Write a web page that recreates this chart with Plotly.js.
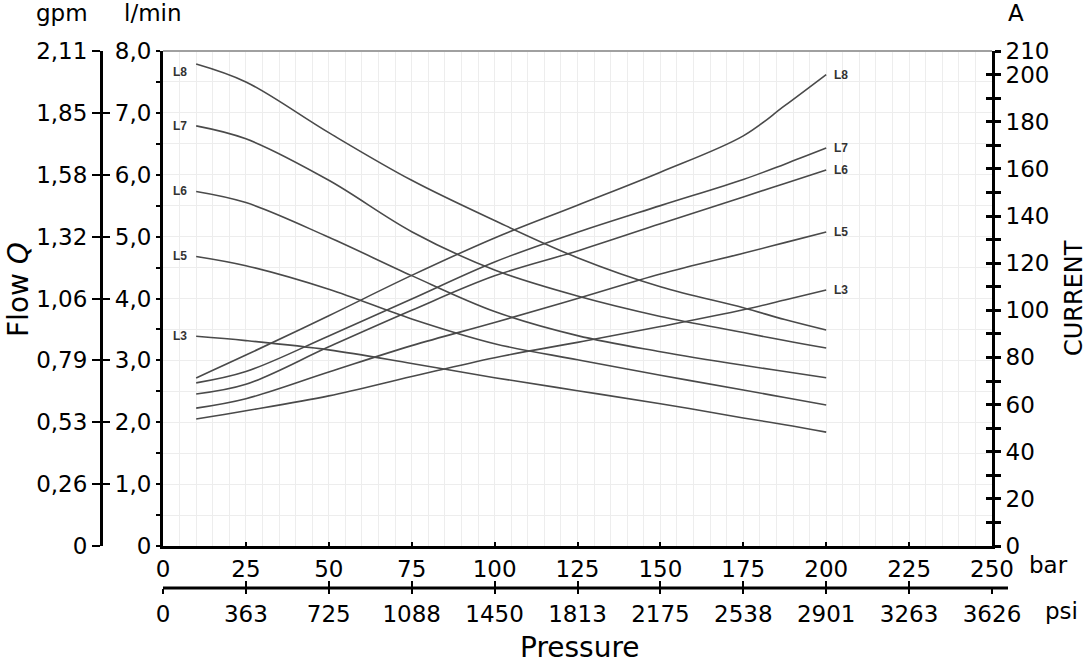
<!DOCTYPE html>
<html>
<head>
<meta charset="utf-8">
<script src="https://cdn.plot.ly/plotly-3.0.1.min.js"></script>
<style>html,body{margin:0;padding:0;background:#fff;}#chart{width:1087px;height:663px;}</style>
</head>
<body>
<div id="chart"></div>
<script>
// ---- data ----
const bars = [10, 25, 50, 75, 100, 125, 150, 175, 187.5, 200];
const seriesNames = ['L8', 'L7', 'L6', 'L5', 'L3'];
const flowL8 = [7.79, 7.50, 6.68, 5.91, 5.26, 4.66, 4.19, 3.85, 3.66, 3.49];
const flowL7 = [6.79, 6.58, 5.91, 5.08, 4.46, 4.04, 3.71, 3.45, 3.32, 3.20];
const flowL6 = [5.73, 5.55, 4.99, 4.37, 3.79, 3.40, 3.14, 2.92, 2.82, 2.72];
const flowL5 = [4.68, 4.53, 4.15, 3.67, 3.27, 3.01, 2.76, 2.52, 2.40, 2.28];
const flowL3 = [3.39, 3.32, 3.17, 2.95, 2.72, 2.51, 2.30, 2.07, 1.96, 1.84];
const currL8 = [71.3, 81, 97.7, 114.8, 130.7, 144.6, 158.6, 174.0, 186.8, 200];
const currL7 = [69.2, 74, 89.1, 104.8, 120.5, 133.1, 144.4, 155.5, 162, 168.8];
const currL6 = [64.5, 68.6, 84.5, 100, 114.6, 125.2, 136.7, 148.1, 153.8, 159.5];
const currL5 = [58.5, 62.5, 73.8, 85, 94.8, 105, 115.4, 124.2, 128.7, 133.2];
const currL3 = [53.9, 57.4, 63.7, 71.9, 79.9, 86.4, 93.1, 100.2, 104.4, 108.6];

const flowTicks = [0, 1, 2, 3, 4, 5, 6, 7, 8];
const flowTickText = ['0', '1,0', '2,0', '3,0', '4,0', '5,0', '6,0', '7,0', '8,0'];
const gpmTickText = ['0', '0,26', '0,53', '0,79', '1,06', '1,32', '1,58', '1,85', '2,11'];
const barTicks = [0, 25, 50, 75, 100, 125, 150, 175, 200, 225, 250];
const barTickText = ['0', '25', '50', '75', '100', '125', '150', '175', '200', '225', '250'];
const psiTickText = ['0', '363', '725', '1088', '1450', '1813', '2175', '2538', '2901', '3263', '3626'];
const currentTicks = [0,10,20,30,40,50,60,70,80,90,100,110,120,130,140,150,160,170,180,190,200,210];
const currentTickText = ['0','','20','','40','','60','','80','','100','','120','','140','','160','','180','','200','210'];

const flows = [flowL8, flowL7, flowL6, flowL5, flowL3];
const currents = [currL8, currL7, currL6, currL5, currL3];

// ---- layout geometry (pixels) ----
const W = 1087, H = 663;
const padL = 60, padR = 1008, padT = 51, padB = 620;
const plotL = 163, plotR = 992, plotB = 546;
const pw = padR - padL, ph = padB - padT;
const px = v => (v - padL) / pw;
const py = v => (padB - v) / ph;

const FONT = 'DejaVu Sans';
const lineColor = '#4a4a4a';
const gridColor = '#ededed';

const traces = [];
flows.forEach((f, i) => {
  traces.push({x: bars, y: f, xaxis: 'x', yaxis: 'y', mode: 'lines',
    line: {color: lineColor, width: 1.6, shape: 'spline', smoothing: 1},
    hoverinfo: 'skip', showlegend: false, name: seriesNames[i] + ' flow'});
});
currents.forEach((c, i) => {
  traces.push({x: bars, y: c, xaxis: 'x', yaxis: 'y2', mode: 'lines',
    line: {color: lineColor, width: 1.6, shape: 'spline', smoothing: 1},
    hoverinfo: 'skip', showlegend: false, name: seriesNames[i] + ' current'});
});
// invisible helpers so auxiliary axes are drawn
const ghost = (xa, ya, yv) => ({x: [bars[0]], y: [yv], xaxis: xa, yaxis: ya, mode: 'markers',
  marker: {opacity: 0}, hoverinfo: 'skip', showlegend: false});
traces.push(ghost('x', 'y3', currL8[0]));
traces.push(ghost('x', 'y4', flowL8[0]));
traces.push(ghost('x', 'y5', flowL8[0]));
traces.push(ghost('x2', 'y', flowL8[0]));
traces.push(ghost('x3', 'y', flowL8[0]));

const xd = [px(plotL), px(plotR)];
const yd = [py(plotB), 1];
const tickFont = {family: FONT, size: 23, color: '#000'};

const annotations = [];
flows.forEach((f, i) => {
  annotations.push({x: bars[0], y: f[0], xref: 'x', yref: 'y', text: seriesNames[i],
    showarrow: false, xanchor: 'right', yanchor: 'middle', xshift: -7, yshift: i === 0 ? -8 : 0,
    font: {family: 'Liberation Sans', size: 12, color: '#333', weight: 'bold'}});
});
currents.forEach((c, i) => {
  annotations.push({x: bars[bars.length - 1], y: c[c.length - 1], xref: 'x', yref: 'y2', text: seriesNames[i],
    showarrow: false, xanchor: 'left', yanchor: 'middle', xshift: 6,
    font: {family: 'Liberation Sans', size: 12, color: '#333', weight: 'bold'}});
});
const txt = (t, xp, yp, size, opts) => Object.assign({text: t, x: px(xp), y: py(yp), xref: 'paper', yref: 'paper',
  showarrow: false, xanchor: 'center', yanchor: 'middle', font: {family: FONT, size: size, color: '#000'}}, opts || {});
annotations.push(txt('gpm', 62, 13, 23));
annotations.push(txt('l/min', 153, 13, 23));
annotations.push(txt('A', 1016, 13, 23));
annotations.push(txt('bar', 1027, 565, 23, {xanchor: 'left'}));
annotations.push(txt('psi', 1043, 611, 23, {xanchor: 'left'}));
annotations.push(txt('Pressure', 580, 647, 28));
annotations.push(txt('Flow <i>Q</i>', 18, 290, 28, {textangle: -90}));
annotations.push(txt('CURRENT', 1074, 298, 24, {textangle: -90}));

const layout = {
  width: W, height: H,
  margin: {l: padL, r: W - padR, t: padT, b: H - padB, pad: 0},
  paper_bgcolor: '#fff', plot_bgcolor: 'rgba(0,0,0,0)',
  showlegend: false,
  xaxis: {domain: xd, range: [0, 250], tickvals: barTicks, ticktext: barTickText,
    ticks: 'inside', ticklen: 4, tickwidth: 2, tickcolor: '#000',
    showline: true, linewidth: 3, linecolor: '#000', zeroline: false,
    showgrid: true, gridcolor: gridColor, gridwidth: 1,
    minor: {dtick: 5, showgrid: true, gridcolor: gridColor, gridwidth: 1, ticks: ''},
    tickfont: tickFont, fixedrange: true},
  xaxis2: {overlaying: 'x', anchor: 'free', position: py(588), side: 'bottom',
    range: [0, 250], tickvals: barTicks, ticktext: psiTickText,
    ticks: 'outside', ticklen: 5, tickwidth: 2, tickcolor: '#000',
    showline: false, showgrid: false, zeroline: false, tickfont: tickFont, fixedrange: true},
  xaxis3: {overlaying: 'x', anchor: 'free', position: py(588), side: 'bottom',
    range: [0, 250], tickvals: barTicks, showticklabels: false,
    ticks: 'inside', ticklen: 7, tickwidth: 2, tickcolor: '#000',
    showline: false, showgrid: false, zeroline: false, fixedrange: true},
  yaxis: {domain: yd, range: [0, 8], tickvals: flowTicks, ticktext: flowTickText,
    ticks: 'outside', ticklen: 4, tickwidth: 2, tickcolor: '#000',
    showline: true, linewidth: 3, linecolor: '#000', zeroline: false,
    showgrid: true, gridcolor: gridColor, gridwidth: 1,
    minor: {dtick: 0.5, showgrid: true, gridcolor: gridColor, gridwidth: 1, ticks: 'outside', ticklen: 4, tickwidth: 2, tickcolor: '#000'},
    tickfont: tickFont, fixedrange: true},
  yaxis2: {overlaying: 'y', anchor: 'x', side: 'right', range: [0, 210],
    tickvals: currentTicks, ticktext: currentTickText,
    ticks: 'outside', ticklen: 6, tickwidth: 3, tickcolor: '#000',
    showline: true, linewidth: 3, linecolor: '#000', showgrid: false, zeroline: false,
    tickfont: tickFont, fixedrange: true},
  yaxis3: {overlaying: 'y', anchor: 'x', side: 'right', range: [0, 210],
    tickvals: currentTicks, showticklabels: false,
    ticks: 'inside', ticklen: 6, tickwidth: 3, tickcolor: '#000',
    showline: false, showgrid: false, zeroline: false, fixedrange: true},
  yaxis4: {overlaying: 'y', anchor: 'free', position: px(101), side: 'left', range: [0, 8],
    tickvals: flowTicks, ticktext: gpmTickText,
    ticks: 'outside', ticklen: 8, tickwidth: 2, tickcolor: '#000',
    showline: true, linewidth: 3, linecolor: '#000', showgrid: false, zeroline: false,
    tickfont: tickFont, fixedrange: true},
  yaxis5: {overlaying: 'y', anchor: 'free', position: px(101), side: 'left', range: [0, 8],
    tickvals: flowTicks, showticklabels: false,
    ticks: 'inside', ticklen: 8, tickwidth: 2, tickcolor: '#000',
    showline: false, showgrid: false, zeroline: false, fixedrange: true},
  shapes: [
    {type: 'line', xref: 'x domain', yref: 'y domain', x0: 0, x1: 1, y0: 1, y1: 1,
      line: {color: '#a0a0a0', width: 2}},
    {type: 'line', xref: 'paper', yref: 'paper', x0: px(plotL), x1: px(1008), y0: py(588), y1: py(588),
      line: {color: '#000', width: 3}}
  ],
  annotations: annotations
};

Plotly.newPlot('chart', traces, layout, {staticPlot: true, displayModeBar: false});
</script>
</body>
</html>
